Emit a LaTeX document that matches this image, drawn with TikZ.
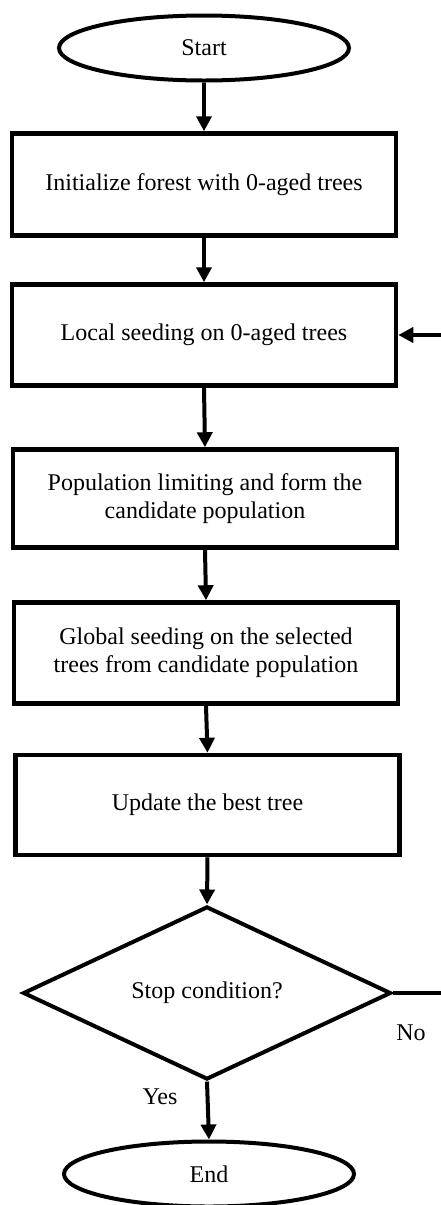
\documentclass[tikz,border=0pt]{standalone}
\usepackage{fontspec}
\setmainfont{Liberation Serif}
\usetikzlibrary{shapes.geometric,arrows.meta}
\begin{document}
\begin{tikzpicture}[x=1bp,y=-1bp,
  every node/.style={font=\fontsize{24bp}{28bp}\selectfont},
  procbox/.style={draw,line width=4.5bp,rectangle,minimum width=384bp,inner sep=0pt,align=center},
  termbox/.style={draw,line width=4bp,ellipse,minimum width=290bp,minimum height=65bp,inner sep=0pt},
  decbox/.style={draw,line width=4bp,diamond,minimum width=368bp,minimum height=164bp,inner sep=0pt},
  flow/.style={line width=4bp,-{Triangle[width=15bp,length=15bp]}},
  plainline/.style={line width=4bp}]
\useasboundingbox (0,0) rectangle (441,1205);
\node[termbox] (start) at (204,48) {Start};
\node[procbox,minimum height=102bp] (b1) at (204,184.5) {Initialize forest with 0-aged trees};
\node[procbox,minimum height=101bp] (b2) at (204,335) {Local seeding on 0-aged trees};
\node[procbox,minimum height=98bp] (b3) at (205,498.5) {Population limiting and form the\\candidate population};
\node[procbox,minimum height=101bp] (b4) at (206,653) {Global seeding on the selected\\trees from candidate population};
\node[procbox,minimum height=100bp] (b5) at (207.5,805) {Update the best tree};
\node[decbox] (dec) at (207,993) {Stop condition?};
\node[termbox] (end) at (209,1174) {End};
\node (no) at (411,1033) {No};
\node (yes) at (160,1097) {Yes};
\coordinate (noR) at (441,993);
\coordinate (fbR) at (441,335);
\draw[flow] (start.south) -- (b1.north);
\draw[flow] (b1.south) -- (b2.north);
\draw[flow] (b2.south) -- (b3.north);
\draw[flow] (b3.south) -- (b4.north);
\draw[flow] (b4.south) -- (b5.north);
\draw[flow] (b5.south) -- (dec.north);
\draw[flow] (dec.south) -- (end.north);
\draw[plainline] (dec.east) -- (noR);
\draw[flow] (fbR) -- (b2.east);
\end{tikzpicture}
\end{document}
